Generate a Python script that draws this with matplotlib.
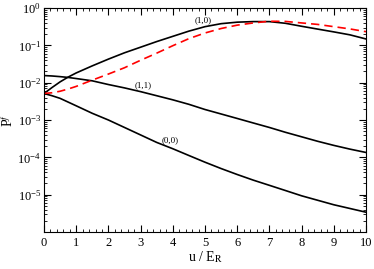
import matplotlib
matplotlib.use("Agg")
import matplotlib.pyplot as plt
from matplotlib.ticker import MultipleLocator, LogLocator, NullFormatter, FixedLocator, FormatStrFormatter

plt.rcParams['font.family'] = ['Liberation Serif', 'DejaVu Serif']
plt.rcParams['mathtext.fontset'] = 'stix'

x = [0, 0.25, 0.5, 0.75, 1, 1.5, 2, 2.5, 3, 3.5, 4, 4.5, 5, 5.5, 6, 6.5, 7, 7.5, 8, 8.5, 9, 9.5, 10]

p10 = [5.13e-3, 7.41e-3, 1.05e-2, 1.41e-2, 1.82e-2, 2.82e-2, 4.27e-2, 6.31e-2, 8.91e-2, 0.126,
       0.174, 0.240, 0.316, 0.380, 0.417, 0.432, 0.432, 0.389, 0.324, 0.272, 0.229, 0.191, 0.148]
p_red = [5.13e-3, 5.37e-3, 5.89e-3, 6.76e-3, 7.94e-3, 1.17e-2, 1.70e-2, 2.51e-2, 3.98e-2, 6.17e-2,
         9.77e-2, 0.151, 0.214, 0.282, 0.347, 0.398, 0.442, 0.437, 0.398, 0.363, 0.316, 0.275, 0.232]
p11 = [1.55e-2, 1.51e-2, 1.45e-2, 1.38e-2, 1.29e-2, 1.12e-2, 8.91e-3, 7.24e-3, 5.75e-3, 4.47e-3,
       3.47e-3, 2.63e-3, 1.91e-3, 1.45e-3, 1.10e-3, 8.32e-4, 6.31e-4, 4.68e-4, 3.55e-4, 2.69e-4,
       2.09e-4, 1.66e-4, 1.35e-4]
p00 = [5.13e-3, 4.47e-3, 3.80e-3, 3.02e-3, 2.40e-3, 1.51e-3, 1.00e-3, 6.31e-4, 3.98e-4, 2.51e-4,
       1.70e-4, 1.12e-4, 7.41e-5, 5.01e-5, 3.47e-5, 2.45e-5, 1.78e-5, 1.29e-5, 9.33e-6, 7.08e-6,
       5.37e-6, 4.27e-6, 3.39e-6]

labels = ["(1,0)", "(1,1)", "(0,0)"]
label_pos = [(4.95, 0.48), (3.08, 8.7e-3), (3.91, 2.9e-4)]

fig = plt.figure(figsize=(3.74, 2.69), dpi=100)
ax = fig.add_axes([0.1176, 0.1375, 0.861, 0.8328])

ax.plot(x, p10, color='black', lw=1.2)
ax.plot(x, p11, color='black', lw=1.2)
ax.plot(x, p00, color='black', lw=1.2)
ax.plot(x, p_red, color='red', lw=1.2, dashes=(5, 3))

for t, (lx, ly) in zip(labels, label_pos):
    ax.text(lx, ly, t, fontsize=6.5, ha='center', va='center')

ax.set_yscale('log')
ax.set_xlim(0, 10)
ax.set_ylim(1e-6, 1)
ax.xaxis.set_major_locator(MultipleLocator(1))
ax.xaxis.set_major_formatter(FormatStrFormatter('%d'))
ax.xaxis.set_minor_locator(MultipleLocator(0.2))
ax.yaxis.set_major_locator(FixedLocator([1e-5, 1e-4, 1e-3, 1e-2, 1e-1, 1]))
ax.yaxis.set_minor_locator(LogLocator(base=10, subs=range(2, 10), numticks=20))
ax.yaxis.set_minor_formatter(NullFormatter())
ax.tick_params(which='both', direction='in', top=True, right=True, labelsize=9)
ax.tick_params(which='major', length=5, width=0.8)
ax.tick_params(which='minor', length=2.5, width=0.6)
ax.tick_params(axis='y', pad=2)
ax.set_xlabel(r'u / E$_{\rm R}$', fontsize=10, labelpad=0)
fig.text(8 / 374, 1 - 120 / 269, r'P$^{f}$', fontsize=10, rotation=90,
         ha='center', va='center')

fig.savefig('out.png', dpi=100)
